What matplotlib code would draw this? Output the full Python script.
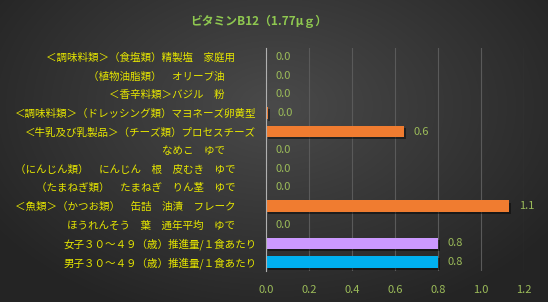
import numpy as np
import matplotlib
matplotlib.use("Agg")
import matplotlib.pyplot as plt
import matplotlib.patheffects as pe

plt.rcParams['font.family'] = ['Noto Sans CJK JP', 'DejaVu Sans']

title = "ビタミンB12（1.77μｇ）"
categories = [
    "＜調味料類＞（食塩類）精製塩　家庭用　　",
    "（植物油脂類）　オリーブ油　　　",
    "＜香辛料類＞バジル　粉　　　",
    "＜調味料類＞（ドレッシング類）マヨネーズ卵黄型",
    "＜牛乳及び乳製品＞（チーズ類）プロセスチーズ",
    "なめこ　ゆで　　　",
    "（にんじん類）　にんじん　根　皮むき　ゆで　　",
    "（たまねぎ類）　たまねぎ　りん茎　ゆで　　",
    "＜魚類＞（かつお類）　缶詰　油漬　フレーク　　",
    "ほうれんそう　葉　通年平均　ゆで　　",
    "女子３０～４９（歳）推進量/１食あたり",
    "男子３０～４９（歳）推進量/１食あたり",
]
values = [0.0, 0.0, 0.0, 0.01, 0.64, 0.0, 0.0, 0.0, 1.13, 0.0, 0.80, 0.80]
bar_colors = ["#F07C30"] * 10 + ["#CC99FF", "#00B0F0"]
xticks = [0.0, 0.2, 0.4, 0.6, 0.8, 1.0, 1.2]

W, H = 548, 302
fig = plt.figure(figsize=(W / 100, H / 100), dpi=100)

# background radial gradient
bg = fig.add_axes([0, 0, 1, 1], zorder=-10)
yy, xx = np.mgrid[0:H, 0:W]
cx, cy = W * 0.5, H * 0.35
r = np.sqrt(((xx - cx) / (W * 0.62)) ** 2 + ((yy - cy) / (H * 0.75)) ** 2)
r = np.clip(r, 0, 1)
c_in = np.array([0x4a, 0x4a, 0x4a]) / 255
c_out = np.array([0x24, 0x24, 0x24]) / 255
img = c_in[None, None, :] * (1 - r[..., None]) + c_out[None, None, :] * r[..., None]
bg.imshow(img, aspect='auto', extent=[0, 1, 0, 1], origin='upper')
bg.axis('off')

ax = fig.add_axes([266 / W, 1 - 271.3 / H, (524 - 266) / W, (271.3 - 47.7) / H])
ax.set_facecolor('none')
y = np.arange(len(categories))
bars = ax.barh(y, values, height=0.6, color=bar_colors, zorder=3)
for b in bars:
    b.set_path_effects([pe.SimplePatchShadow(offset=(1.5, -1.5), shadow_rgbFace='black', alpha=0.45), pe.Normal()])

ax.set_ylim(len(categories) - 0.5, -0.5)
ax.set_xlim(0, 1.2)
ax.set_yticks(y)
ax.set_yticklabels(categories, color='#E6E600', fontsize=7.6)
ax.set_xticks(xticks)
ax.set_xticklabels([f"{t:.1f}" for t in xticks], color='#9BBB59', fontsize=8)
ax.tick_params(axis='both', length=0)
ax.tick_params(axis='x', pad=10)
ax.tick_params(axis='y', pad=7)
ax.grid(axis='x', color='#5a5a5a', linewidth=0.8, zorder=0)
for s in ['top', 'right', 'bottom']:
    ax.spines[s].set_visible(False)
ax.spines['left'].set_color('#b0b0b0')
ax.spines['left'].set_linewidth(0.8)
ax.spines['left'].set_zorder(4)

for yi, v in zip(y, values):
    ax.annotate(f"{v:.1f}", (v, yi), xytext=(7, 0), textcoords='offset points',
                va='center', ha='left', color='#9BBB59', fontsize=8)

fig.text(259 / W, 1 - 21 / H, title, color='#8FC850', fontsize=8.5,
         ha='center', va='center', fontweight='bold')

fig.savefig('out.png', dpi=100)
